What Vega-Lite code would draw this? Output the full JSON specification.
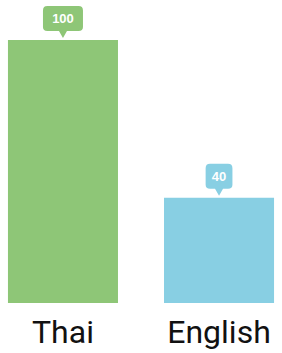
{
  "$schema": "https://vega.github.io/schema/vega-lite/v6.json",
  "width": 282,
  "height": 263,
  "autosize": "none",
  "padding": {"top": 40, "bottom": 50, "left": 0, "right": 0},
  "background": "white",
  "config": {"view": {"stroke": null}},
  "data": {"values": [
    {"lang": "Thai", "value": 100, "label": "100"},
    {"lang": "English", "value": 40, "label": "40"}
  ]},
  "encoding": {
    "x": {"field": "lang", "type": "nominal", "sort": ["Thai", "English"],
      "scale": {"paddingInner": 0.295, "paddingOuter": 0.051},
      "axis": {"title": null, "domain": false, "ticks": false, "labelAngle": 0, "labelFont": "Roboto", "labelFontSize": 32, "labelColor": "#111111", "labelPadding": 14}},
    "y": {"field": "value", "type": "quantitative", "scale": {"domain": [0, 100]}, "axis": null},
    "color": {"field": "lang", "type": "nominal", "scale": {"domain": ["Thai", "English"], "range": ["#8ec677", "#88cfe3"]}, "legend": null}
  },
  "layer": [
    {"mark": {"type": "bar", "opacity": 1}},
    {"mark": {"type": "point", "filled": true, "opacity": 1, "size": 1600, "yOffset": -2},
     "encoding": {"shape": {"field": "lang", "type": "nominal", "scale": {"domain": ["Thai", "English"], "range": [
       "M -0.78 -1.6 L 0.78 -1.6 Q 1.0 -1.6 1.0 -1.38 L 1.0 -0.55 Q 1.0 -0.35 0.78 -0.35 L 0.2 -0.35 L 0 0 L -0.2 -0.35 L -0.78 -0.35 Q -1.0 -0.35 -1.0 -0.55 L -1.0 -1.38 Q -1.0 -1.6 -0.78 -1.6 Z",
       "M -0.45 -1.6 L 0.45 -1.6 Q 0.67 -1.6 0.67 -1.38 L 0.67 -0.55 Q 0.67 -0.35 0.45 -0.35 L 0.2 -0.35 L 0 0 L -0.2 -0.35 L -0.45 -0.35 Q -0.67 -0.35 -0.67 -0.55 L -0.67 -1.38 Q -0.67 -1.6 -0.45 -1.6 Z"
     ]}, "legend": null}}},
    {"mark": {"type": "text", "color": "white", "fontWeight": "bold", "fontSize": 13, "font": "Liberation Sans", "baseline": "middle", "dy": -21},
     "encoding": {"text": {"field": "label"}, "color": {"value": "white"}}}
  ]
}
